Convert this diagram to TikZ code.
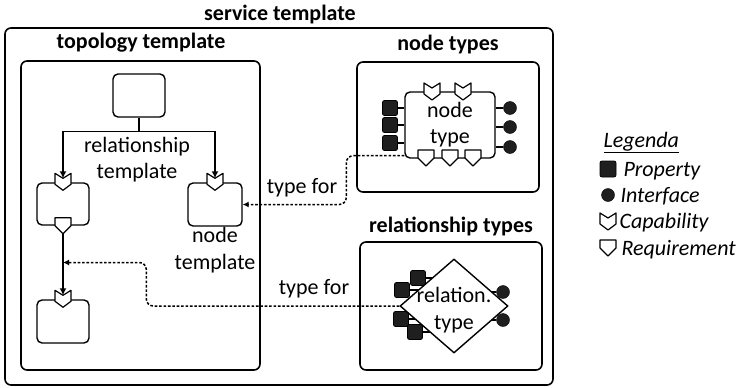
\documentclass[tikz,border=0pt]{standalone}
\usepackage{fontspec}
\setmainfont{Carlito}
\usetikzlibrary{shapes.geometric, arrows.meta, positioning, calc}
\tikzset{
    x=1pt, y=-1pt,
    font=\fontsize{22}{26}\selectfont,
    % --- boxes ---
    frameBox/.style={
        rectangle, draw, line width=1.6pt, rounded corners=6pt, inner sep=0pt
    },
    frameTitle/.style={font=\fontsize{22}{26}\selectfont\bfseries},
    elemBox/.style={
        rectangle, draw, fill=white, line width=1.4pt, rounded corners=5pt,
        inner sep=0pt, align=center
    },
    % --- ports ---
    propPort/.style={
        rectangle, draw, fill=black!88, line width=0.8pt, rounded corners=2pt,
        minimum size=15pt, inner sep=0pt
    },
    ifPort/.style={
        circle, draw, fill=black!88, minimum size=13pt, inner sep=0pt
    },
    portLine/.style={line width=1.4pt},
    % --- connectors ---
    link/.style={line width=1.5pt, -{Latex[length=7pt, width=7pt]}},
    typeFor/.style={
        line width=1.5pt, dash pattern=on 2.6pt off 1.8pt, rounded corners=7pt,
        -{Latex[length=6pt, width=6pt]}
    },
    legendText/.style={font=\fontsize{22}{26}\selectfont\itshape, anchor=base west},
    % --- capability / requirement ---
    capShape/.pic={
        \draw[fill=white, line width=1.2pt, line join=round]
            (-8,-9) -- (0,-4) -- (8,-9) -- (8,2) -- (0,8) -- (-8,2) -- cycle;
    },
    reqShape/.pic={
        \draw[fill=white, line width=1.2pt, line join=round]
            (-8,-8) -- (8,-8) -- (8,0) -- (0,8) -- (-8,0) -- cycle;
    }
}

\begin{document}
\begin{tikzpicture}
	\useasboundingbox (0,0) rectangle (739,388);

	% =========================================================
	% 1. service template
	% =========================================================
	\node[frameBox, minimum width=548pt, minimum height=357pt] (st) at (279,206.5) {};
	\node[frameTitle] (st_t) at (280,15) {service template};

	% =========================================================
	% 2. topology template
	% =========================================================
	\node[frameBox, minimum width=239pt, minimum height=309pt] (tt) at (140.5,215.5) {};
	\node[frameTitle] (tt_t) at (141,43) {topology template};

	\node[elemBox, minimum width=52pt, minimum height=43pt] (tt_top) at (139,95.5) {};
	\node[elemBox, minimum width=52pt, minimum height=42pt] (tt_n1) at (63,204) {};
	\node[elemBox, minimum width=52pt, minimum height=43pt] (tt_n2) at (63,321.5) {};
	\node[elemBox, minimum width=54pt, minimum height=43pt] (tt_n3) at (215,204.5) {};

	\node[align=center] (tt_rel) at (137,160) {relationship\\template};
	\node[align=center, font=\fontsize{22}{27}\selectfont] (tt_node) at (215,250) {node\\template};

	\pic at (tt_n1.north) {capShape};
	\pic at (tt_n1.south) {reqShape};
	\pic at (tt_n2.north) {capShape};
	\pic at (tt_n3.north) {capShape};

	\coordinate (tt_mid) at ($(tt_n1.south)!0.5!(tt_n2.north)$);

	\draw[link] (tt_top.south) -- ++(0,14) -| ([yshift=4pt]tt_n1.north);
	\draw[link] (tt_top.south) -- ++(0,14) -| ([yshift=4pt]tt_n3.north);
	\draw[link] ([yshift=-8pt]tt_n1.south) -- ([yshift=4pt]tt_n2.north);

	% =========================================================
	% 3. node types
	% =========================================================
	\node[frameBox, minimum width=182pt, minimum height=130pt] (nts) at (448,127) {};
	\node[frameTitle] (nts_t) at (448,45) {node types};

	\foreach \i/\y in {1/108, 2/125, 3/143} {
			\node[propPort] (nt_p\i) at (390,\y) {};
		}
	\foreach \i/\y in {1/108, 2/127, 3/147} {
			\node[ifPort] (nt_i\i) at (510,\y) {};
		}
	\node[elemBox, minimum width=90pt, minimum height=66pt] (nt) at (450,125) {node\\type};
	\foreach \i in {1,2,3} {
			\draw[portLine] (nt_p\i) -- (nt_p\i -| nt.west);
			\draw[portLine] (nt_i\i) -- (nt_i\i -| nt.east);
		}
	\foreach \x in {432, 463} {
			\pic at (\x,92) {capShape};
		}
	\foreach \x in {426, 450, 473} {
			\pic at (\x,158) {reqShape};
		}

	% =========================================================
	% 4. relationship types
	% =========================================================
	\node[frameBox, minimum width=182pt, minimum height=128pt] (rts) at (451,306) {};
	\node[frameTitle] (rts_t) at (451,226) {relationship types};

	\node[propPort] (rt_p1) at (418,278) {};
	\node[propPort] (rt_p2) at (402,290) {};
	\node[propPort] (rt_p3) at (401,319) {};
	\node[propPort] (rt_p4) at (415,332) {};
	\node[ifPort] (rt_i1) at (503,292) {};
	\node[ifPort] (rt_i2) at (503,320) {};
	\foreach \i in {1,...,4} {
			\draw[portLine] (rt_p\i) -- ++(30,0);
		}
	\foreach \i in {1,2} {
			\draw[portLine] (rt_i\i) -- ++(-30,0);
		}
	\node[diamond, draw, fill=white, line width=1.4pt, inner sep=0pt,
		minimum width=108pt, minimum height=94pt] (rt) at (454,306) {};
	\node[align=center, font=\fontsize{22}{27}\selectfont] (rt_txt) at (454,310) {relation.\\type};

	% =========================================================
	% 5. type for
	% =========================================================
	\draw[typeFor] ([yshift=3pt]nt.south west) -- ++(-58,0) |- (tt_n3.east);
	\node (tf1) at (302,188) {type for};

	\draw[typeFor] (rt.west) -- ++(-253,0) |- (tt_mid);
	\node (tf2) at (314,289) {type for};

	% =========================================================
	% 6. legend
	% =========================================================
	\node[legendText] (lg) at (600,147) {\underline{Legenda}};
	\node[propPort, minimum size=16pt] (lg_p) at (608,169) {};
	\node[legendText] (lg_pt) at (620,176) {Property};
	\node[ifPort, minimum size=13pt] (lg_i) at (608,195) {};
	\node[legendText] (lg_it) at (617,202) {Interface};
	\pic at (608,222) {capShape};
	\node[legendText] (lg_ct) at (616,228) {Capability};
	\pic at (608,248) {reqShape};
	\node[legendText] (lg_rt) at (618,255) {Requirement};

\end{tikzpicture}
\end{document}
